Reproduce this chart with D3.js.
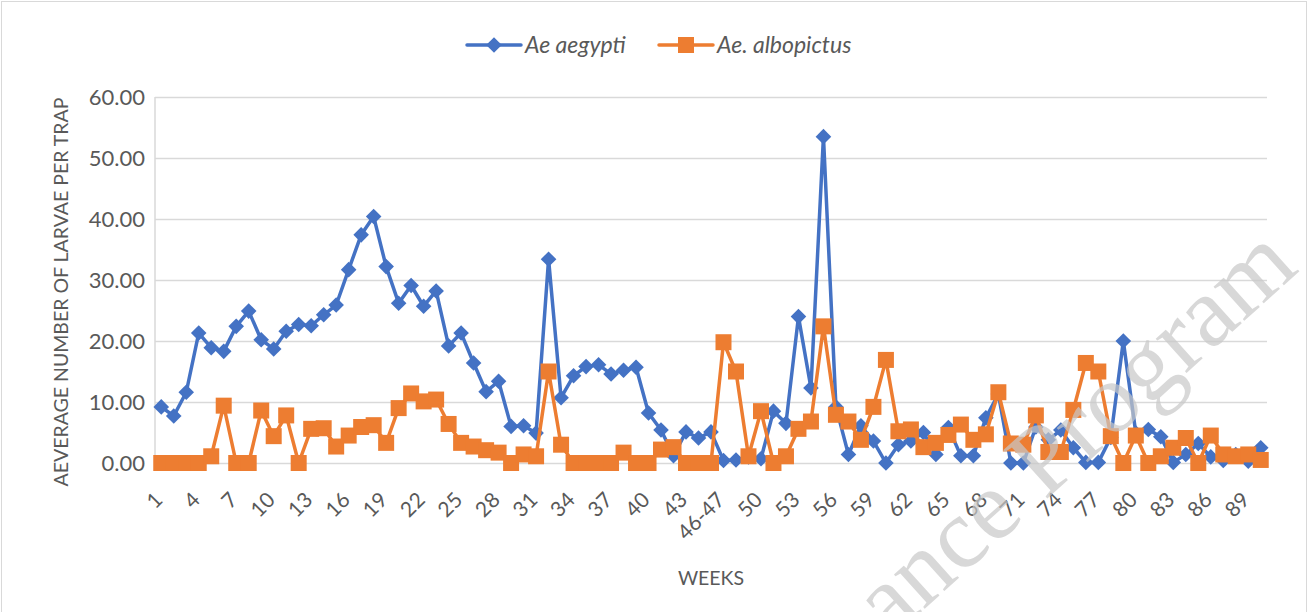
<!DOCTYPE html>
<html>
<head>
<meta charset="utf-8">
<script src="https://cdn.jsdelivr.net/npm/d3@7"></script>
<style>
  html, body { margin: 0; padding: 0; background: #fff; }
  svg { display: block; }
</style>
</head>
<body>
<div id="chart"></div>
<script>
// weekly trap counts
const weeks = ["1","2","3","4","5","6","7","8","9","10","11","12","13","14","15","16","17","18","19","20",
  "21","22","23","24","25","26","27","28","29","30","31","32","33","34","35","36","37","38","39","40",
  "41","42","43","44","45","46-47","48","49","50","51","52","53","54","55","56","57","58","59","60",
  "61","62","63","64","65","66","67","68","69","70","71","72","73","74","75","76","77","78","79","80",
  "81","82","83","84","85","86","87","88","89","90"];

const aegypti = [9.2,7.7,11.6,21.3,18.9,18.3,22.4,24.9,20.2,18.7,21.6,22.7,22.5,24.3,25.9,31.7,37.4,40.4,32.2,26.2,
  29.1,25.7,28.2,19.2,21.3,16.4,11.7,13.4,6.0,6.1,4.9,33.4,10.7,14.3,15.8,16.1,14.6,15.2,15.7,8.2,
  5.4,1.2,5.1,4.1,5.1,0.4,0.5,1.0,0.7,8.5,6.5,24.0,12.3,53.5,9.2,1.4,6.1,3.6,0,3.0,
  3.6,5.0,1.4,5.8,1.2,1.2,7.4,11.3,0,0,5.9,3.8,5.4,2.5,0.1,0.1,4.2,20.0,4.9,5.5,
  4.3,0.1,1.4,3.2,1.0,0.4,1.4,0.3,2.5];

const albopictus = [0,0,0,0,1.1,9.4,0,0,8.6,4.4,7.8,0,5.6,5.7,2.7,4.5,5.9,6.2,3.3,9.0,
  11.4,10.1,10.4,6.4,3.3,2.7,2.1,1.7,0,1.4,1.1,15.0,3.0,0,0,0,0,1.7,0,0,
  2.2,2.6,0,0,0,19.8,15.0,1.1,8.5,0,1.1,5.6,6.8,22.4,7.9,6.8,3.8,9.2,16.9,5.2,
  5.5,2.6,3.3,4.6,6.3,3.8,4.7,11.6,3.2,3.0,7.8,1.8,1.8,8.7,16.4,15.0,4.4,0,4.5,0,
  1.1,2.5,4.1,0,4.5,1.4,1.1,1.4,0.5];

const yTicks = [0, 10, 20, 30, 40, 50, 60];
const xTickLabels = ["1","4","7","10","13","16","19","22","25","28","31","34","37","40","43",
  "46-47","50","53","56","59","62","65","68","71","74","77","80","83","86","89"];

const width = 1308, height = 612;
const plotLeft = 155, plotRight = 1267, plotTop = 97, plotBottom = 463;
const blue = "#4472C4", orange = "#ED7D31", ink = "#595959", grid = "#d9d9d9";
const font = "Lato, 'Open Sans', sans-serif";

const svg = d3.select("#chart").append("svg")
  .attr("width", width)
  .attr("height", height);

// chart area border
svg.append("rect")
  .attr("x", 1.5).attr("y", 1.5)
  .attr("width", width - 3).attr("height", height + 20)
  .attr("fill", "none").attr("stroke", grid);

const x = d3.scalePoint().domain(weeks).range([plotLeft, plotRight]).padding(0.5);
const y = d3.scaleLinear().domain([0, 60]).range([plotBottom, plotTop]);

// gridlines + y labels
const yAxis = d3.axisLeft(y).tickValues(yTicks)
  .tickSize(-(plotRight - plotLeft)).tickPadding(10)
  .tickFormat(d3.format(".2f"));
const gy = svg.append("g").attr("transform", `translate(${plotLeft},0)`).call(yAxis);
gy.select(".domain").remove();
gy.selectAll(".tick line").attr("stroke", grid).attr("stroke-width", 1.5);
gy.selectAll(".tick text")
  .attr("fill", ink).style("font-family", font).style("font-size", "22px");

// left axis line
svg.append("line")
  .attr("x1", plotLeft).attr("x2", plotLeft).attr("y1", plotTop).attr("y2", plotBottom)
  .attr("stroke", grid).attr("stroke-width", 1.5);

// rotated week labels
const xAxis = d3.axisBottom(x)
  .tickValues(xTickLabels).tickSize(0).tickPadding(0);
const gx = svg.append("g").attr("transform", `translate(0,${plotBottom})`).call(xAxis);
gx.select(".domain").remove();
gx.selectAll(".tick text")
  .attr("fill", ink).style("font-family", font).style("font-size", "21px")
  .attr("text-anchor", "end")
  .attr("dy", "0.35em")
  .attr("transform", "translate(-3,33) rotate(-45)")
  .attr("y", 0);

// axis titles
svg.append("text")
  .attr("x", (plotLeft + plotRight) / 2).attr("y", 585)
  .attr("text-anchor", "middle")
  .attr("fill", ink).style("font-family", font).style("font-size", "19.5px")
  .text("WEEKS");

svg.append("text")
  .attr("transform", `translate(68,${(plotTop + plotBottom) / 2 + 12}) rotate(-90)`)
  .attr("text-anchor", "middle")
  .attr("fill", ink).style("font-family", font).style("font-size", "19.5px")
  .text("AEVERAGE NUMBER OF LARVAE PER TRAP");

const line = d3.line()
  .x((d, i) => x(weeks[i]))
  .y(d => y(d));

const diamond = "M0,-7.8L7.8,0L0,7.8L-7.8,0Z";
const square = "M-8,-8H8V8H-8Z";

const series = [
  { name: "Ae aegypti", values: aegypti, color: blue, marker: diamond },
  { name: "Ae. albopictus", values: albopictus, color: orange, marker: square }
];

series.forEach(s => {
  const g = svg.append("g");
  g.append("path")
    .datum(s.values)
    .attr("d", line)
    .attr("fill", "none")
    .attr("stroke", s.color)
    .attr("stroke-width", 3.5)
    .attr("stroke-linejoin", "round");
  g.selectAll("path.mark")
    .data(s.values)
    .join("path")
    .attr("class", "mark")
    .attr("d", s.marker)
    .attr("transform", (d, i) => `translate(${x(weeks[i])},${y(d)})`)
    .attr("fill", s.color);
});

// legend
const legendItems = [
  { x: 467, tx: 525 },
  { x: 659, tx: 717 }
];
series.forEach((s, i) => {
  const it = legendItems[i];
  const lg = svg.append("g").attr("transform", `translate(${it.x},45)`);
  lg.append("line")
    .attr("x1", 0).attr("x2", 54).attr("y1", 0).attr("y2", 0)
    .attr("stroke", s.color).attr("stroke-width", 3.5).attr("stroke-linecap", "round");
  lg.append("path").attr("d", s.marker).attr("transform", "translate(27,0)").attr("fill", s.color);
  svg.append("text")
    .attr("x", it.tx).attr("y", 45).attr("dy", "0.35em")
    .attr("fill", ink).style("font-family", font).style("font-size", "23px")
    .style("font-style", "italic")
    .text(s.name);
});

// watermark stamp from the source page
svg.append("text")
  .attr("transform", "translate(890,640) rotate(-42)")
  .attr("fill", "#c8c8c8").attr("opacity", 0.7)
  .style("font-family", "'Liberation Serif', 'DejaVu Serif', serif")
  .style("font-size", "100px")
  .text("ance Program");
</script>
</body>
</html>
